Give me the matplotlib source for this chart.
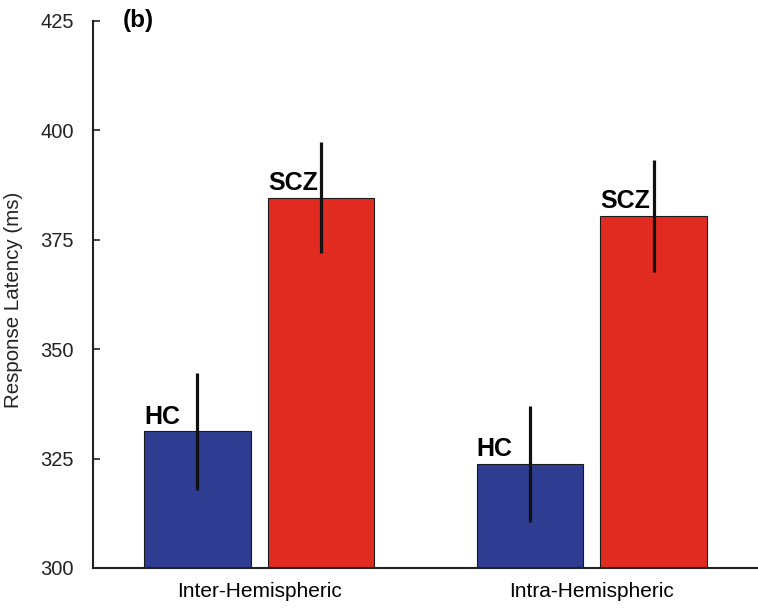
import matplotlib
matplotlib.use("Agg")
import matplotlib.pyplot as plt
import numpy as np

plt.rcParams['font.family'] = ['Liberation Sans', 'DejaVu Sans']

conditions = ["Inter-Hemispheric", "Intra-Hemispheric"]
groups = ["HC", "SCZ"]
hc_means = [331.2, 323.8]
hc_err = [13.4, 13.3]
scz_means = [384.6, 380.5]
scz_err = [12.7, 12.8]
yticks = [300, 325, 350, 375, 400, 425]

colors = {"HC": "#2E3D91", "SCZ": "#E12A20"}

fig = plt.figure(figsize=(7.58, 6.08), dpi=100)
ax = fig.add_axes([0.1227, 0.0658, 0.8773, 0.8997])

x = np.arange(len(conditions))
width = 0.32
offset = 0.186

for vals, errs, name, sign in [(hc_means, hc_err, "HC", -1), (scz_means, scz_err, "SCZ", 1)]:
    pos = x + sign * offset
    ax.bar(pos, vals, width=width, bottom=0, color=colors[name], edgecolor="#1a1a1a",
           linewidth=0.8, zorder=2)
    ax.errorbar(pos, vals, yerr=errs, fmt="none", ecolor="#111111", elinewidth=2.3,
                capsize=0, zorder=3)
    for p, v in zip(pos, vals):
        ax.annotate(name, xy=(p - width / 2, v), xytext=(0, 2), textcoords="offset points",
                    ha="left", va="bottom", fontsize=18, fontweight="bold", zorder=4)

ax.set_ylim(300, 425)
ax.set_xlim(-0.5, 1.5)
ax.set_yticks(yticks)
ax.set_xticks(x)
ax.set_xticklabels(conditions, fontsize=15)
ax.tick_params(axis="y", direction="in", length=5, width=1.2, pad=14, labelsize=14.5,
               colors="#222222", labelcolor="#222222")
ax.tick_params(axis="x", length=0, pad=10)
for s in ["top", "right"]:
    ax.spines[s].set_visible(False)
ax.spines["left"].set_linewidth(1.5)
ax.spines["bottom"].set_linewidth(1.5)
ax.spines["left"].set_color("#222222")
ax.spines["bottom"].set_color("#222222")

ax.set_ylabel("Response Latency (ms)", fontsize=14.8, labelpad=4, color="#222222")
ax.yaxis.set_label_coords(-0.105, 0.49)
ax.text(0.045, 1.0, "(b)", transform=ax.transAxes, fontsize=17.5, fontweight="bold",
        ha="left", va="center")

fig.savefig("out.png", dpi=100)
